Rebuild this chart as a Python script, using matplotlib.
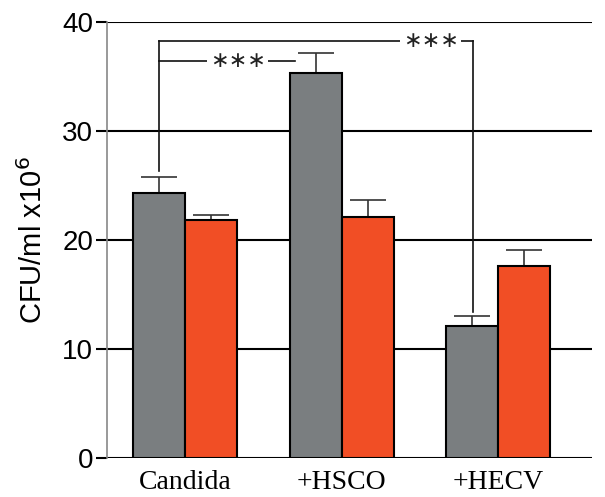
import matplotlib.pyplot as plt
import numpy as np

# Data
groups = ['Candida', '+HSCO', '+HECV']
gray_vals = [24.3, 35.3, 12.1]
gray_err = [1.5, 1.9, 0.9]
orange_vals = [21.8, 22.1, 17.6]
orange_err = [0.45, 1.6, 1.45]

gray_c = '#7a7e80'
orange_c = '#f14e25'

fig = plt.figure(figsize=(6.05, 4.97), dpi=100)
ax = fig.add_axes([0.1769, 0.0785, 0.8016, 0.8772])

x = np.arange(len(groups))
w = 0.332

ax.set_ylim(0, 40)
ax.set_xlim(-0.5, 2.6)

# horizontal grid lines
for yv in [0, 10, 20, 30, 40]:
    ax.axhline(yv, color='black', lw=1.5, zorder=1)

ax.bar(x - w/2, gray_vals, w, color=gray_c, edgecolor='black', linewidth=1.5, zorder=3)
ax.bar(x + w/2, orange_vals, w, color=orange_c, edgecolor='black', linewidth=1.5, zorder=3)

err_kw = dict(fmt='none', ecolor='#333333', elinewidth=1.2, capsize=13, capthick=1.2, zorder=2)
ax.errorbar(x - w/2, gray_vals, yerr=[np.zeros(3), gray_err], **err_kw)
ax.errorbar(x + w/2, orange_vals, yerr=[np.zeros(3), orange_err], **err_kw)

# significance brackets
lc = '#111111'
ax.plot([-0.166, -0.166], [26.3, 38.3], color=lc, lw=1.2, zorder=4)
ax.plot([-0.166, 1.84], [38.3, 38.3], color=lc, lw=1.2, zorder=4)
ax.plot([1.84, 1.84], [38.3, 13.4], color=lc, lw=1.2, zorder=4)
ax.plot([-0.166, 0.70], [36.4, 36.4], color=lc, lw=1.2, zorder=4)
star_kw = dict(ha='center', va='center', fontsize=16, family='DejaVu Sans', color='#222222',
               bbox=dict(facecolor='white', edgecolor='none', pad=2), zorder=5)
ax.text(0.335, 36.4, '\u2217\u2217\u2217', **star_kw)
ax.text(1.57, 38.3, '\u2217\u2217\u2217', **star_kw)

for s in ['top', 'right', 'bottom']:
    ax.spines[s].set_visible(False)
ax.spines['left'].set_color('#888888')
ax.spines['left'].set_linewidth(1.2)

ax.set_yticks([0, 10, 20, 30, 40])
ax.set_yticklabels(['0', '10', '20', '30', '40'], family='Liberation Sans', fontsize=20)
ax.tick_params(axis='y', length=8, width=1.5, color='black', pad=2)
ax.set_xticks([])
# group labels placed on baseline
for xi, g in zip(x, groups):
    ax.text(xi, -0.072, g, transform=ax.get_xaxis_transform(), ha='center', va='baseline',
            family='Liberation Serif', fontsize=20)

ax.set_ylabel('CFU/ml x10$^{6}$', family='Liberation Sans', fontsize=21, labelpad=10)

fig.savefig('out.png', dpi=100)
